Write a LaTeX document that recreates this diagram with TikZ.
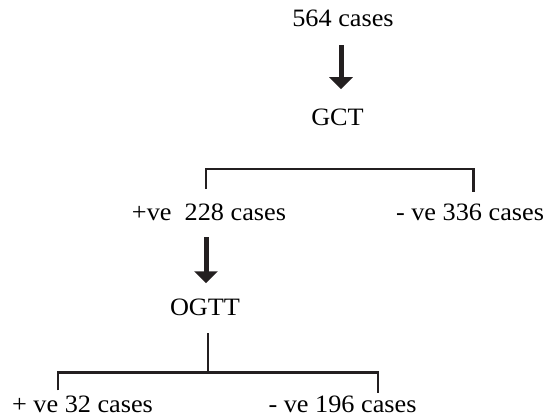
\documentclass[tikz,border=0pt]{standalone}
\usepackage{fontspec}
\setmainfont{Liberation Serif}
\usepackage{tikz}
\usetikzlibrary{arrows.meta}
\definecolor{ink}{RGB}{35,31,32}

\begin{document}
\begin{tikzpicture}[x=1pt,y=-1pt,
  lbl/.style={font=\fontsize{25}{28}\selectfont,inner sep=0pt,xscale=1.05,anchor=base},
  bracket/.style={draw=ink,line width=2.4pt},
  bigarrow/.style={draw=ink,line width=5pt,-{Triangle[width=23pt,length=12pt]}}]
\useasboundingbox (0,0) rectangle (548,417);
% screening levels
\node[lbl] (start) at (343,27) {564 cases};
\node[lbl] (gct) at (337.5,125) {GCT};
\node[lbl] (pos) at (209,220) {+ve~~228 cases};
\node[lbl] (neg) at (470,220) {- ve 336 cases};
\node[lbl] (ogtt) at (205,315) {OGTT};
\node[lbl] (pos2) at (82.5,412) {+ ve 32 cases};
\node[lbl] (neg2) at (342.5,412) {- ve 196 cases};
% arrows down
\draw[bigarrow,shorten <=18pt,shorten >=19pt] ([xshift=-2pt]start.south) -- ([xshift=-2pt]start.south |- gct.north);
\draw[bigarrow,shorten <=17pt,shorten >=15pt] ([xshift=-3pt]pos.south) -- ([xshift=-3pt]pos.south |- ogtt.north);
% GCT split
\draw[bracket] ([xshift=-3pt,yshift=14pt]pos.north) -- ++(0,-20) -| ([xshift=3.5pt,yshift=11.5pt]neg.north);
% OGTT split
\draw[bracket] ([xshift=3pt,yshift=-18pt]ogtt.south) -- ++(0,39) coordinate (fork);
\draw[bracket] ([xshift=-24.5pt,yshift=5pt]pos2.north) |- (fork) -| ([xshift=35.5pt,yshift=2pt]neg2.north);
\end{tikzpicture}
\end{document}
